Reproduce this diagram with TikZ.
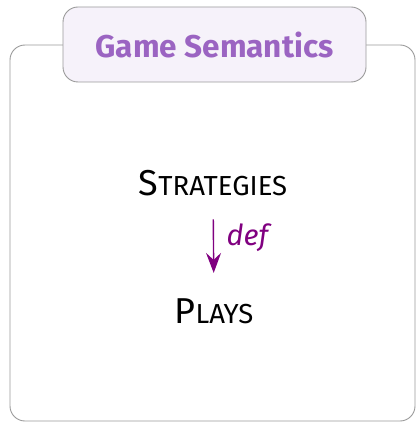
\documentclass[tikz,border=0pt]{standalone}
\usepackage{fontspec}
\setmainfont{Fira Sans}
\usetikzlibrary{arrows.meta}
\definecolor{titlepurple}{HTML}{9B64C2}
\definecolor{titlefill}{HTML}{F6F2FA}
\definecolor{framegray}{HTML}{9A9A9A}
\definecolor{defpurple}{HTML}{800080}
\tikzset{
  frame/.style={draw=framegray, line width=0.9pt, rounded corners=15pt, inner sep=0pt},
  titlebox/.style={frame, fill=titlefill, text=titlepurple,
    font=\fontsize{31.5}{34}\selectfont\bfseries},
  obj/.style={font=\fontsize{36}{40}\selectfont},
  morph/.style={draw=defpurple, line width=1.4pt,
    -{Stealth[length=20pt, width=15pt, inset=7pt]}},
}
\newcommand{\fakesc}[2]{#1{\fontsize{27.5}{30}\selectfont #2}}

\begin{document}
\begin{tikzpicture}[x=1pt,y=-1pt]
\useasboundingbox (0,0) rectangle (416,422);
\node[frame, minimum width=405pt, minimum height=376pt] (box) at (212.5,233) {};
\node[titlebox, minimum width=303pt, minimum height=75pt] (title) at (214.5,44.5) {Game Semantics};
\node[obj] (strat) at (213,183) {\fakesc{S}{TRATEGIES}};
\node[obj] (plays) at (214,311) {\fakesc{P}{LAYS}};
\path[morph, shorten <=20pt, shorten >=22pt] (strat) -- (plays)
  node[midway, right=9pt, yshift=9pt, text=defpurple, font=\fontsize{29}{32}\selectfont\itshape] (deflabel) {def};
\end{tikzpicture}
\end{document}
